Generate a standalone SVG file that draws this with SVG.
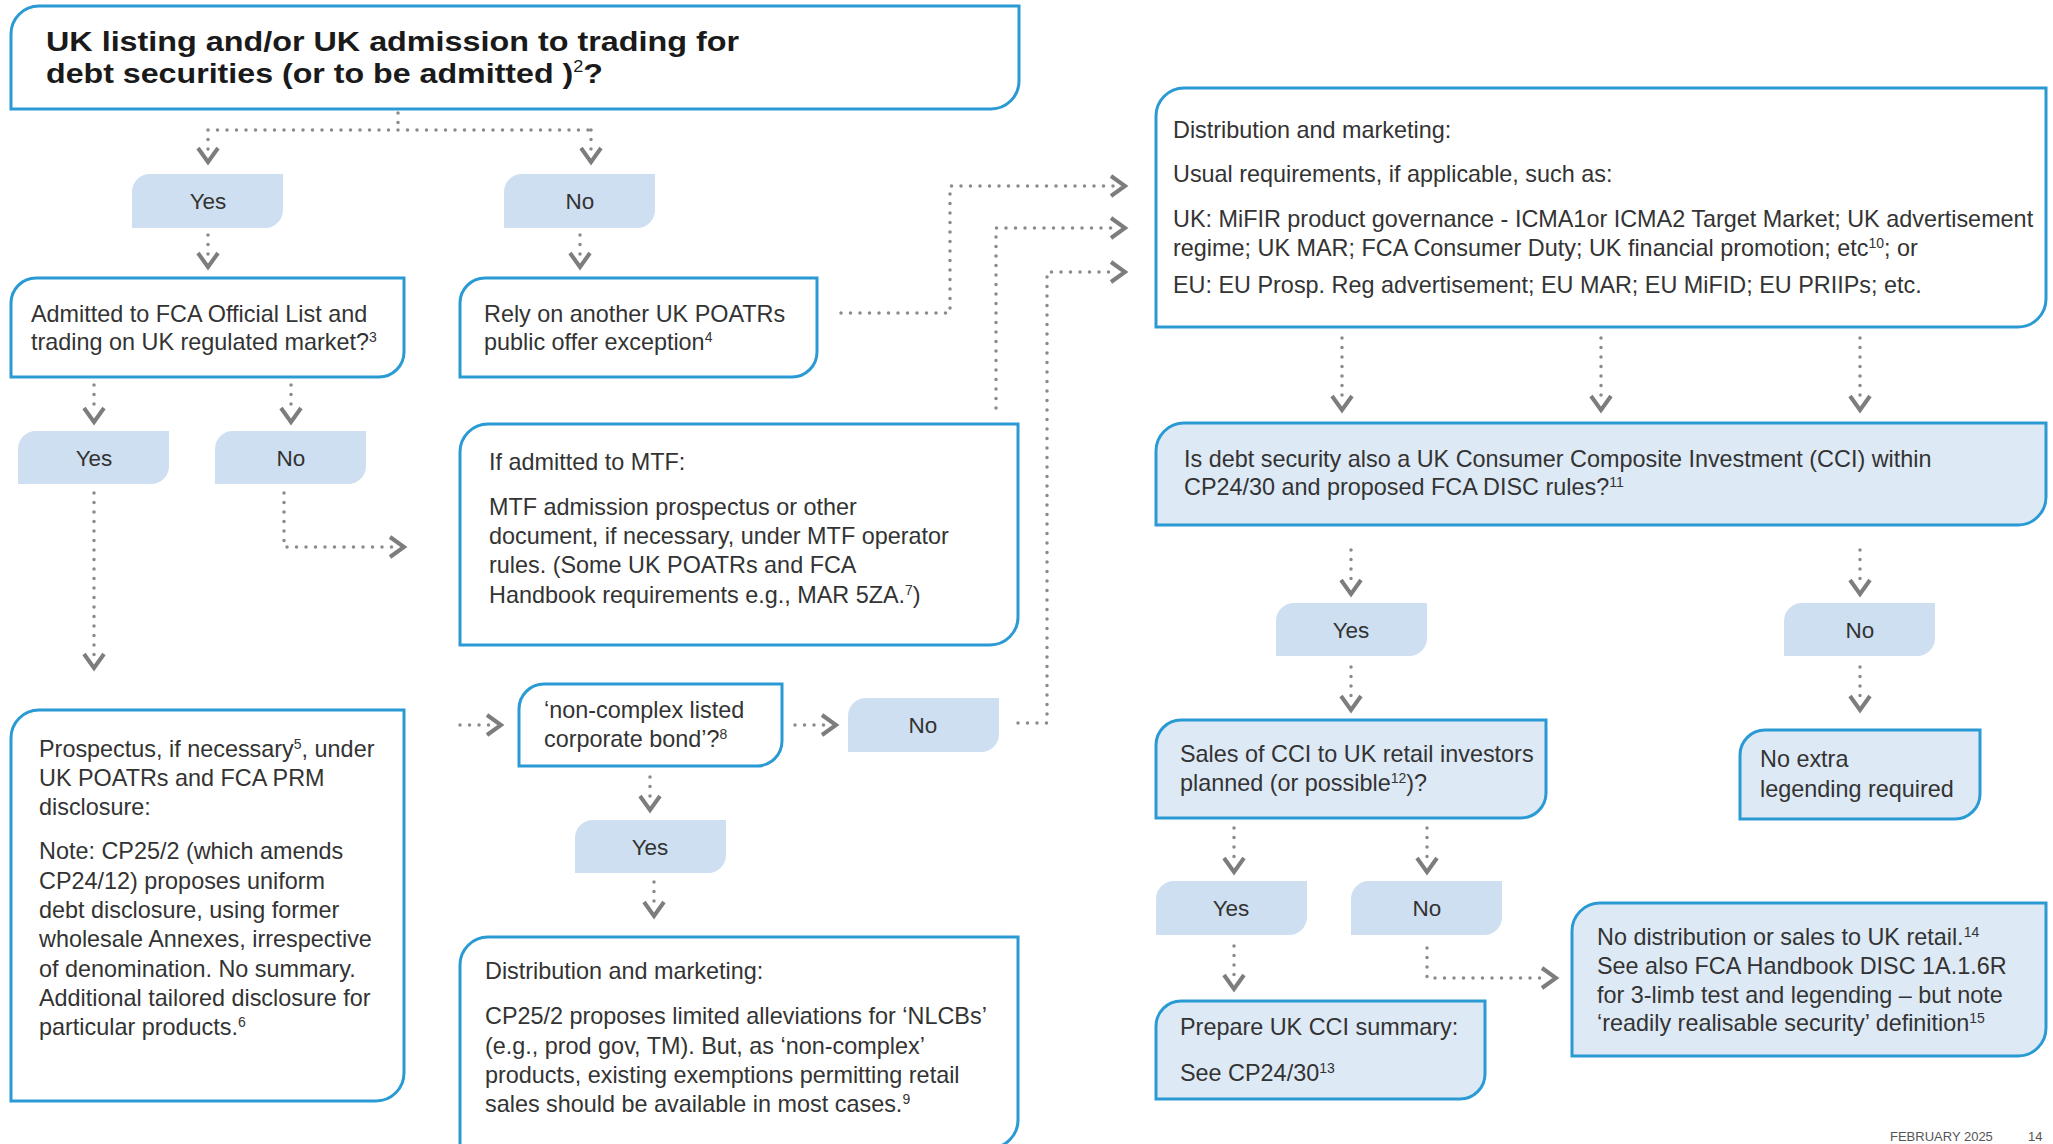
<svg xmlns="http://www.w3.org/2000/svg" xmlns:xlink="http://www.w3.org/1999/xlink" width="2053" height="1144" viewBox="0 0 2053 1144">
<style>
.box{fill:#ffffff;stroke:#2a9ad4;stroke-width:3}
.q{fill:#dde9f5;stroke:#2a9ad4;stroke-width:3}
.yn{fill:#cddff0}
.t{font-family:"Liberation Sans",Arial,sans-serif;font-size:23.4px;fill:#333333}
.title{font-family:"Liberation Sans",Arial,sans-serif;font-size:28.5px;font-weight:bold;fill:#1a1a1a}
.lbl{font-family:"Liberation Sans",Arial,sans-serif;font-size:22.5px;fill:#333333;text-anchor:middle}
.sup{font-size:14px}
.dot{fill:none;stroke:#8a8a8a;stroke-width:3.5;stroke-dasharray:0 9.5;stroke-linecap:round}
.chev{fill:none;stroke:#7d7d7d;stroke-width:4}
.foot{font-family:"Liberation Sans",Arial,sans-serif;font-size:13px;fill:#555555}
</style>
<defs>
<path id="cd" class="chev" d="M-10,-14 L0,0 L10,-14"/>
<path id="cr" class="chev" d="M-14,-10 L0,0 L-14,10"/>
</defs>
<rect width="2053" height="1144" fill="#ffffff"/>

<g id="connectors">
<path class="dot" d="M398,113 V130 M208,130 H591 M208,130 V152 M591,130 V152"/>
<use xlink:href="#cd" x="208" y="162"/><use xlink:href="#cd" x="591" y="162"/>
<path class="dot" d="M208,235 V258 M580,235 V258"/>
<use xlink:href="#cd" x="208" y="267"/><use xlink:href="#cd" x="580" y="267"/>
<path class="dot" d="M94,385 V413 M291,385 V413"/>
<use xlink:href="#cd" x="94" y="422"/><use xlink:href="#cd" x="291" y="422"/>
<path class="dot" d="M94,493 V660"/>
<use xlink:href="#cd" x="94" y="668"/>
<path class="dot" d="M284,493 V547 H396"/>
<use xlink:href="#cr" x="404" y="547"/>
<path class="dot" d="M841,313 H950 V186 H1117"/>
<use xlink:href="#cr" x="1125" y="186"/>
<path class="dot" d="M996,408 V228 H1117"/>
<use xlink:href="#cr" x="1125" y="228"/>
<path class="dot" d="M1018,723 H1047 V272 H1117"/>
<use xlink:href="#cr" x="1125" y="272"/>
<path class="dot" d="M460,725 H492"/>
<use xlink:href="#cr" x="501" y="725"/>
<path class="dot" d="M795,725 H827"/>
<use xlink:href="#cr" x="836" y="725"/>
<path class="dot" d="M650,777 V801"/>
<use xlink:href="#cd" x="650" y="810"/>
<path class="dot" d="M654,882 V907"/>
<use xlink:href="#cd" x="654" y="916"/>
<path class="dot" d="M1342,338 V401 M1601,338 V401 M1860,338 V401"/>
<use xlink:href="#cd" x="1342" y="410"/><use xlink:href="#cd" x="1601" y="410"/><use xlink:href="#cd" x="1860" y="410"/>
<path class="dot" d="M1351,550 V585 M1860,550 V585"/>
<use xlink:href="#cd" x="1351" y="594"/><use xlink:href="#cd" x="1860" y="594"/>
<path class="dot" d="M1351,667 V701 M1860,667 V701"/>
<use xlink:href="#cd" x="1351" y="710"/><use xlink:href="#cd" x="1860" y="710"/>
<path class="dot" d="M1234,828 V863 M1427,828 V863"/>
<use xlink:href="#cd" x="1234" y="872"/><use xlink:href="#cd" x="1427" y="872"/>
<path class="dot" d="M1234,946 V980"/>
<use xlink:href="#cd" x="1234" y="989"/>
<path class="dot" d="M1427,948 V978 H1547"/>
<use xlink:href="#cr" x="1556" y="978"/>
</g>

<g id="n-title">
<path class="box" d="M11,34 A28,28 0 0 1 39,6 H1019 V81 A28,28 0 0 1 991,109 H11 Z"/>
<text class="title" x="46" y="51" textLength="693" lengthAdjust="spacingAndGlyphs">UK listing and/or UK admission to trading for</text>
<text class="title" x="46" y="83" textLength="557" lengthAdjust="spacingAndGlyphs">debt securities (or to be admitted )<tspan font-size="16" font-weight="normal" dy="-11">2</tspan><tspan dy="11">?</tspan></text>
</g>

<g id="n-yes1"><path class="yn" d="M132,192 A18,18 0 0 1 150,174 H283 V210 A18,18 0 0 1 265,228 H132 Z"/><text class="lbl" x="208" y="209">Yes</text></g>
<g id="n-no1"><path class="yn" d="M504,192 A18,18 0 0 1 522,174 H655 V210 A18,18 0 0 1 637,228 H504 Z"/><text class="lbl" x="580" y="209">No</text></g>

<g id="n-admitted">
<path class="box" d="M11,303 A25,25 0 0 1 36,278 H404 V352 A25,25 0 0 1 379,377 H11 Z"/>
<text class="t" x="31" y="322">Admitted to FCA Official List and</text>
<text class="t" x="31" y="350">trading on UK regulated market?<tspan class="sup" dy="-8">3</tspan></text>
</g>

<g id="n-rely">
<path class="box" d="M460,303 A25,25 0 0 1 485,278 H817 V352 A25,25 0 0 1 792,377 H460 Z"/>
<text class="t" x="484" y="322">Rely on another UK POATRs</text>
<text class="t" x="484" y="350">public offer exception<tspan class="sup" dy="-8">4</tspan></text>
</g>

<g id="n-yes2"><path class="yn" d="M18,449 A18,18 0 0 1 36,431 H169 V466 A18,18 0 0 1 151,484 H18 Z"/><text class="lbl" x="94" y="466">Yes</text></g>
<g id="n-no2"><path class="yn" d="M215,449 A18,18 0 0 1 233,431 H366 V466 A18,18 0 0 1 348,484 H215 Z"/><text class="lbl" x="291" y="466">No</text></g>

<g id="n-mtf">
<path class="box" d="M460,452 A28,28 0 0 1 488,424 H1018 V617 A28,28 0 0 1 990,645 H460 Z"/>
<text class="t" x="489" y="470">If admitted to MTF:</text>
<text class="t" x="489" y="515">MTF admission prospectus or other</text>
<text class="t" x="489" y="544">document, if necessary, under MTF operator</text>
<text class="t" x="489" y="573">rules. (Some UK POATRs and FCA</text>
<text class="t" x="489" y="603">Handbook requirements e.g., MAR 5ZA.<tspan class="sup" dy="-8">7</tspan><tspan dy="8">)</tspan></text>
</g>

<g id="n-prospectus">
<path class="box" d="M11,738 A28,28 0 0 1 39,710 H404 V1073 A28,28 0 0 1 376,1101 H11 Z"/>
<text class="t" x="39" y="757">Prospectus, if necessary<tspan class="sup" dy="-8">5</tspan><tspan dy="8">, under</tspan></text>
<text class="t" x="39" y="786">UK POATRs and FCA PRM</text>
<text class="t" x="39" y="815">disclosure:</text>
<text class="t" x="39" y="859">Note: CP25/2 (which amends</text>
<text class="t" x="39" y="889">CP24/12) proposes uniform</text>
<text class="t" x="39" y="918">debt disclosure, using former</text>
<text class="t" x="39" y="947">wholesale Annexes, irrespective</text>
<text class="t" x="39" y="977">of denomination. No summary.</text>
<text class="t" x="39" y="1006">Additional tailored disclosure for</text>
<text class="t" x="39" y="1035">particular products.<tspan class="sup" dy="-8">6</tspan></text>
</g>

<g id="n-nlcb">
<path class="box" d="M519,709 A25,25 0 0 1 544,684 H782 V741 A25,25 0 0 1 757,766 H519 Z"/>
<text class="t" x="544" y="718">‘non-complex listed</text>
<text class="t" x="544" y="747">corporate bond’?<tspan class="sup" dy="-8">8</tspan></text>
</g>

<g id="n-no3"><path class="yn" d="M848,716 A18,18 0 0 1 866,698 H999 V734 A18,18 0 0 1 981,752 H848 Z"/><text class="lbl" x="923" y="733">No</text></g>
<g id="n-yes3"><path class="yn" d="M575,838 A18,18 0 0 1 593,820 H726 V855 A18,18 0 0 1 708,873 H575 Z"/><text class="lbl" x="650" y="855">Yes</text></g>

<g id="n-dist2">
<path class="box" d="M460,965 A28,28 0 0 1 488,937 H1018 V1120 A28,28 0 0 1 990,1148 H460 Z"/>
<text class="t" x="485" y="979">Distribution and marketing:</text>
<text class="t" x="485" y="1024">CP25/2 proposes limited alleviations for ‘NLCBs’</text>
<text class="t" x="485" y="1054">(e.g., prod gov, TM). But, as ‘non-complex’</text>
<text class="t" x="485" y="1083">products, existing exemptions permitting retail</text>
<text class="t" x="485" y="1112">sales should be available in most cases.<tspan class="sup" dy="-8">9</tspan></text>
</g>

<g id="n-dist1">
<path class="box" d="M1156,116 A28,28 0 0 1 1184,88 H2046 V299 A28,28 0 0 1 2018,327 H1156 Z"/>
<text class="t" x="1173" y="138">Distribution and marketing:</text>
<text class="t" x="1173" y="182">Usual requirements, if applicable, such as:</text>
<text class="t" x="1173" y="227">UK: MiFIR product governance - ICMA1or ICMA2 Target Market; UK advertisement</text>
<text class="t" x="1173" y="256">regime; UK MAR; FCA Consumer Duty; UK financial promotion; etc<tspan class="sup" dy="-8">10</tspan><tspan dy="8">; or</tspan></text>
<text class="t" x="1173" y="293">EU: EU Prosp. Reg advertisement; EU MAR; EU MiFID; EU PRIIPs; etc.</text>
</g>

<g id="n-cci">
<path class="q" d="M1156,451 A28,28 0 0 1 1184,423 H2046 V497 A28,28 0 0 1 2018,525 H1156 Z"/>
<text class="t" x="1184" y="467">Is debt security also a UK Consumer Composite Investment (CCI) within</text>
<text class="t" x="1184" y="495">CP24/30 and proposed FCA DISC rules?<tspan class="sup" dy="-8">11</tspan></text>
</g>

<g id="n-yes4"><path class="yn" d="M1276,621 A18,18 0 0 1 1294,603 H1427 V638 A18,18 0 0 1 1409,656 H1276 Z"/><text class="lbl" x="1351" y="638">Yes</text></g>
<g id="n-no4"><path class="yn" d="M1784,621 A18,18 0 0 1 1802,603 H1935 V638 A18,18 0 0 1 1917,656 H1784 Z"/><text class="lbl" x="1860" y="638">No</text></g>

<g id="n-sales">
<path class="q" d="M1156,745 A25,25 0 0 1 1181,720 H1546 V793 A25,25 0 0 1 1521,818 H1156 Z"/>
<text class="t" x="1180" y="762">Sales of CCI to UK retail investors</text>
<text class="t" x="1180" y="791">planned (or possible<tspan class="sup" dy="-8">12</tspan><tspan dy="8">)?</tspan></text>
</g>

<g id="n-noextra">
<path class="q" d="M1740,755 A25,25 0 0 1 1765,730 H1980 V794 A25,25 0 0 1 1955,819 H1740 Z"/>
<text class="t" x="1760" y="767">No extra</text>
<text class="t" x="1760" y="797">legending required</text>
</g>

<g id="n-yes5"><path class="yn" d="M1156,899 A18,18 0 0 1 1174,881 H1307 V917 A18,18 0 0 1 1289,935 H1156 Z"/><text class="lbl" x="1231" y="916">Yes</text></g>
<g id="n-no5"><path class="yn" d="M1351,899 A18,18 0 0 1 1369,881 H1502 V917 A18,18 0 0 1 1484,935 H1351 Z"/><text class="lbl" x="1427" y="916">No</text></g>

<g id="n-prepare">
<path class="q" d="M1156,1026 A25,25 0 0 1 1181,1001 H1485 V1074 A25,25 0 0 1 1460,1099 H1156 Z"/>
<text class="t" x="1180" y="1035">Prepare UK CCI summary:</text>
<text class="t" x="1180" y="1081">See CP24/30<tspan class="sup" dy="-8">13</tspan></text>
</g>

<g id="n-nodist">
<path class="q" d="M1572,931 A28,28 0 0 1 1600,903 H2046 V1028 A28,28 0 0 1 2018,1056 H1572 Z"/>
<text class="t" x="1597" y="945">No distribution or sales to UK retail.<tspan class="sup" dy="-8">14</tspan></text>
<text class="t" x="1597" y="974">See also FCA Handbook DISC 1A.1.6R</text>
<text class="t" x="1597" y="1003">for 3-limb test and legending – but note</text>
<text class="t" x="1597" y="1031">‘readily realisable security’ definition<tspan class="sup" dy="-8">15</tspan></text>
</g>

<g id="footer">
<text class="foot" x="1890" y="1141">FEBRUARY 2025</text>
<text class="foot" x="2028" y="1141">14</text>
</g>
</svg>
